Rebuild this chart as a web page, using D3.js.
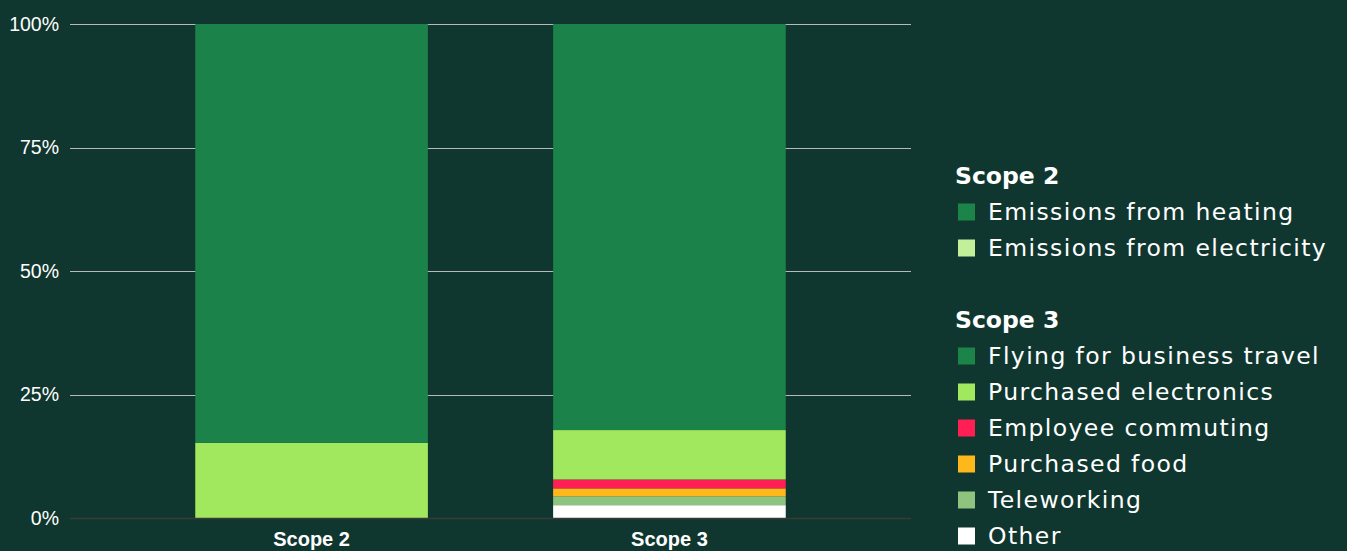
<!DOCTYPE html>
<html>
<head>
<meta charset="utf-8">
<script src="https://cdn.jsdelivr.net/npm/d3@7"></script>
<style>
  body { margin: 0; background: #10372f; }
  svg { display: block; }
</style>
</head>
<body>
<script>
// categories and stacked shares (percent)
const categories = ["Scope 2", "Scope 3"];
const yTicks = [0, 25, 50, 75, 100];

const scope2Labels = ["Emissions from heating", "Emissions from electricity"];
const scope3Labels = ["Flying for business travel", "Purchased electronics", "Employee commuting",
    "Purchased food", "Teleworking", "Other"];

// bottom to top
const scope2Values = [15.2, 84.8];            // electricity, heating
const scope3Values = [2.6, 1.8, 1.6, 1.8, 10.0, 82.2]; // other, teleworking, food, commuting, electronics, flying

const scope2Colors = ["#a1e85f", "#1b8349"];
const scope3Colors = ["#ffffff", "#8fc47e", "#ffb81b", "#ff1f55", "#a1e85f", "#1b8349"];

const legend2Colors = ["#1d8449", "#c1ef9a"];
const legend3Colors = ["#1d8449", "#a1e85f", "#ff1f55", "#ffb81b", "#8fc47e", "#ffffff"];

const W = 1347, H = 551;
const margin = {left: 70, right: 436, top: 24, bottom: 33};

const svg = d3.select("body").append("svg")
    .attr("width", W)
    .attr("height", H);

svg.append("rect").attr("width", W).attr("height", H).attr("fill", "#10372f");

const x = d3.scaleBand()
    .domain(categories)
    .range([margin.left, W - margin.right])
    .padding(0.35);

const y = d3.scaleLinear()
    .domain([0, 100])
    .range([H - margin.bottom, margin.top]);

// gridlines
svg.append("g")
    .selectAll("line")
    .data(yTicks.filter(d => d > 0))
    .join("line")
    .attr("x1", margin.left)
    .attr("x2", W - margin.right)
    .attr("y1", d => Math.round(y(d)) + 0.5)
    .attr("y2", d => Math.round(y(d)) + 0.5)
    .attr("stroke", "#b9b9b9")
    .attr("stroke-width", 1);

// stacked bars
const stacks = [
    {cat: "Scope 2", values: scope2Values, colors: scope2Colors},
    {cat: "Scope 3", values: scope3Values, colors: scope3Colors}
];
stacks.forEach(s => {
    let acc = 0;
    const segs = s.values.map((v, i) => {
        const seg = {y0: acc, y1: acc + v, color: s.colors[i]};
        acc += v;
        return seg;
    });
    svg.append("g")
        .selectAll("rect")
        .data(segs)
        .join("rect")
        .attr("x", x(s.cat))
        .attr("width", x.bandwidth())
        .attr("y", d => y(d.y1))
        .attr("height", d => y(d.y0) - y(d.y1))
        .attr("fill", d => d.color);
});

// baseline
svg.append("line")
    .attr("x1", margin.left)
    .attr("x2", W - margin.right)
    .attr("y1", y(0) + 0.5)
    .attr("y2", y(0) + 0.5)
    .attr("stroke", "#3a3a35")
    .attr("stroke-width", 1.5);

// y axis labels
svg.append("g")
    .selectAll("text")
    .data(yTicks)
    .join("text")
    .attr("x", 59)
    .attr("y", d => y(d))
    .attr("dy", "0.35em")
    .attr("text-anchor", "end")
    .attr("fill", "#ffffff")
    .style("font-family", "Liberation Sans, Arial, sans-serif")
    .style("font-size", "19.5px")
    .text(d => d + "%");

// x axis labels
svg.append("g")
    .selectAll("text")
    .data(categories)
    .join("text")
    .attr("x", d => x(d) + x.bandwidth() / 2)
    .attr("y", 546)
    .attr("text-anchor", "middle")
    .attr("fill", "#ffffff")
    .style("font-family", "Liberation Sans, Arial, sans-serif")
    .style("font-size", "20px")
    .style("font-weight", "bold")
    .text(d => d);

// legend
const legend = svg.append("g")
    .style("font-family", "'DejaVu Sans', sans-serif");

function legendGroup(title, labels, colors, top) {
    legend.append("text")
        .attr("x", 955)
        .attr("y", top)
        .attr("dy", "0.35em")
        .attr("fill", "#ffffff")
        .style("font-size", "23.5px")
        .style("font-weight", "bold")
        .text(title);
    labels.forEach((l, i) => {
        const cy = top + 36 * (i + 1);
        legend.append("rect")
            .attr("x", 958)
            .attr("y", cy - 8.5)
            .attr("width", 17)
            .attr("height", 17)
            .attr("fill", colors[i]);
        legend.append("text")
            .attr("x", 988)
            .attr("y", cy)
            .attr("dy", "0.35em")
            .attr("fill", "#ffffff")
            .style("font-size", "23.5px")
            .style("letter-spacing", "1.4px")
            .text(l);
    });
}
legendGroup("Scope 2", scope2Labels, legend2Colors, 176);
legendGroup("Scope 3", scope3Labels, legend3Colors, 320);
</script>
</body>
</html>
